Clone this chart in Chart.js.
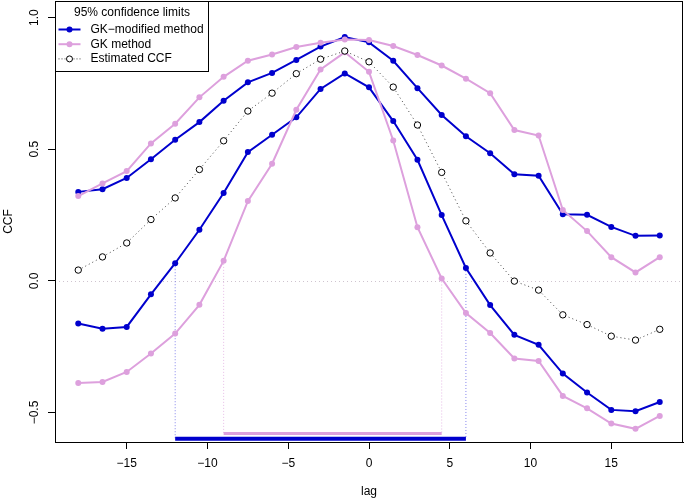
<!DOCTYPE html>
<html>
<head>
<meta charset="utf-8">
<script src="https://cdn.jsdelivr.net/npm/chart.js@4.4.0/dist/chart.umd.min.js"></script>
<style>
  html, body { margin: 0; padding: 0; background: #fff; }
  #wrap { width: 685px; height: 500px; }
</style>
</head>
<body>
<div id="wrap"><canvas id="ccf"></canvas></div>
<script>
// lags and series
const lags = [-18, -16.5, -15, -13.5, -12, -10.5, -9, -7.5, -6, -4.5, -3, -1.5, 0,
  1.5, 3, 4.5, 6, 7.5, 9, 10.5, 12, 13.5, 15, 16.5, 18];

const ccf = [0.041, 0.091, 0.144, 0.233, 0.315, 0.423, 0.532, 0.645, 0.713, 0.787, 0.842, 0.873, 0.832,
  0.736, 0.592, 0.412, 0.228, 0.106, -0.001, -0.035, -0.129, -0.166, -0.210, -0.225, -0.184];

const gkModUpper = [0.338, 0.348, 0.391, 0.462, 0.536, 0.603, 0.684, 0.754, 0.790, 0.839, 0.890, 0.926, 0.906,
  0.836, 0.732, 0.630, 0.549, 0.485, 0.405, 0.399, 0.253, 0.251, 0.205, 0.171, 0.172];
const gkModLower = [-0.162, -0.182, -0.175, -0.051, 0.067, 0.194, 0.334, 0.489, 0.555, 0.621, 0.729, 0.788, 0.735,
  0.607, 0.460, 0.250, 0.049, -0.092, -0.205, -0.243, -0.352, -0.424, -0.490, -0.495, -0.460];

const gkUpper = [0.322, 0.370, 0.417, 0.522, 0.597, 0.697, 0.775, 0.836, 0.860, 0.888, 0.904, 0.917, 0.915,
  0.892, 0.858, 0.818, 0.768, 0.713, 0.573, 0.552, 0.269, 0.189, 0.090, 0.032, 0.090];
const gkLower = [-0.388, -0.384, -0.346, -0.276, -0.200, -0.091, 0.076, 0.303, 0.445, 0.650, 0.803, 0.868, 0.794,
  0.533, 0.204, 0.009, -0.122, -0.198, -0.295, -0.304, -0.437, -0.484, -0.542, -0.562, -0.513];

// significant lag ranges (shown as bars under the curves)
const gkModRange = [-12, 6];
const gkRange = [-9, 4.5];
const gkModBarLevel = -0.600;
const gkBarLevel = -0.580;

const xTicks = [-15, -10, -5, 0, 5, 10, 15];
const yTicks = [-0.5, 0, 0.5, 1.0];
const yTickLabels = ['\u22120.5', '0.0', '0.5', '1.0'];

const BLUE = '#0000CD';
const PINK = '#DDA0DD';
const FONT = '"Liberation Sans", Arial, Helvetica, sans-serif';

const pts = (ys) => lags.map((x, i) => ({ x: x, y: ys[i] }));
const lowerAt = (ys, lag) => ys[lags.indexOf(lag)];

// vertical dotted drop lines from the lower limit to the range bar
function dropLine(ys, lag, level, color) {
  return {
    data: [{ x: lag, y: lowerAt(ys, lag) }, { x: lag, y: level }],
    borderColor: color,
    borderWidth: 1,
    borderDash: [1, 2],
    pointRadius: 0,
    order: 10
  };
}

function rangeBar(range, level, color, width) {
  return {
    data: [{ x: range[0], y: level }, { x: range[1], y: level }],
    borderColor: color,
    borderWidth: width,
    pointRadius: 0,
    order: 9
  };
}

function band(ys, color, order) {
  return {
    data: pts(ys),
    borderColor: color,
    backgroundColor: color,
    borderWidth: 2,
    pointRadius: 3,
    pointBorderWidth: 0,
    pointBackgroundColor: color,
    order: order
  };
}

const rFrame = {
  id: 'rFrame',
  beforeDatasetsDraw(chart) {
    // abline(h = 0)
    const { ctx, chartArea } = chart;
    const y = Math.round(chart.scales.y.getPixelForValue(0)) + 0.5;
    ctx.save();
    ctx.strokeStyle = '#cfc4cf';
    ctx.lineWidth = 1;
    ctx.setLineDash([1, 3]);
    ctx.beginPath();
    ctx.moveTo(chartArea.left, y);
    ctx.lineTo(chartArea.right, y);
    ctx.stroke();
    ctx.restore();
  },
  afterDraw(chart) {
    const { ctx, chartArea } = chart;
    const ys = chart.scales.y;
    ctx.save();
    // box
    ctx.strokeStyle = '#000';
    ctx.lineWidth = 1;
    ctx.strokeRect(Math.round(chartArea.left) + 0.5, Math.round(chartArea.top) + 0.5,
      Math.round(chartArea.right - chartArea.left) - 1, Math.round(chartArea.bottom - chartArea.top));

    // rotated y tick labels, like R's default las = 0
    ctx.fillStyle = '#000';
    ctx.font = '12px ' + FONT;
    ctx.textAlign = 'center';
    ctx.textBaseline = 'middle';
    yTicks.forEach((v, i) => {
      ctx.save();
      ctx.translate(chartArea.left - 20, ys.getPixelForValue(v));
      ctx.rotate(-Math.PI / 2);
      ctx.fillText(yTickLabels[i], 0, 0);
      ctx.restore();
    });

    // legend in the top-left corner
    const lx = Math.round(chartArea.left) + 0.5;
    const ly = Math.round(chartArea.top) + 0.5;
    const lw = 153, lh = 70;
    ctx.fillStyle = '#fff';
    ctx.fillRect(lx, ly, lw, lh);
    ctx.strokeStyle = '#000';
    ctx.strokeRect(lx, ly, lw, lh);
    ctx.fillStyle = '#000';
    ctx.textAlign = 'center';
    ctx.fillText('95% confidence limits', lx + lw / 2, ly + 11);

    const rows = [
      { label: 'GK\u2212modified method', color: BLUE, open: false },
      { label: 'GK method', color: PINK, open: false },
      { label: 'Estimated CCF', color: '#000', open: true }
    ];
    rows.forEach((r, i) => {
      const y = ly + 28 + i * 14.7;
      ctx.save();
      ctx.strokeStyle = r.color;
      if (r.open) {
        ctx.lineWidth = 1;
        ctx.setLineDash([1, 2]);
        ctx.strokeStyle = '#444';
      } else {
        ctx.lineWidth = 2;
      }
      ctx.beginPath();
      ctx.moveTo(lx + 3, y);
      ctx.lineTo(lx + 25, y);
      ctx.stroke();
      ctx.setLineDash([]);
      ctx.beginPath();
      ctx.arc(lx + 14, y, 3, 0, Math.PI * 2);
      if (r.open) {
        ctx.fillStyle = '#fff';
        ctx.fill();
        ctx.lineWidth = 1;
        ctx.strokeStyle = '#000';
        ctx.stroke();
      } else {
        ctx.fillStyle = r.color;
        ctx.fill();
      }
      ctx.restore();
      ctx.textAlign = 'left';
      ctx.fillText(r.label, lx + 35, y);
    });
    ctx.restore();
  }
};

new Chart(document.getElementById('ccf'), {
  type: 'line',
  data: {
    datasets: [
      band(gkModUpper, BLUE, 5),
      band(gkModLower, BLUE, 5),
      band(gkUpper, PINK, 4),
      band(gkLower, PINK, 4),
      {
        data: pts(ccf),
        borderColor: '#444',
        borderWidth: 1,
        borderDash: [1, 3],
        pointRadius: 3.2,
        pointBorderWidth: 1,
        pointBorderColor: '#000',
        pointBackgroundColor: '#fff',
        order: 1
      },
      rangeBar(gkModRange, gkModBarLevel, BLUE, 4),
      rangeBar(gkRange, gkBarLevel, PINK, 3),
      dropLine(gkModLower, gkModRange[0], gkModBarLevel, 'rgba(80,80,230,0.7)'),
      dropLine(gkModLower, gkModRange[1], gkModBarLevel, 'rgba(80,80,230,0.7)'),
      dropLine(gkLower, gkRange[0], gkBarLevel, 'rgba(221,160,221,0.7)'),
      dropLine(gkLower, gkRange[1], gkBarLevel, 'rgba(221,160,221,0.7)')
    ]
  },
  options: {
    responsive: true,
    maintainAspectRatio: false,
    animation: false,
    layout: { autoPadding: false, padding: { top: 1, right: 2, left: 0, bottom: 0 } },
    plugins: {
      legend: { display: false },
      tooltip: { enabled: false }
    },
    scales: {
      x: {
        type: 'linear',
        min: -19.44,
        max: 19.44,
        afterBuildTicks: (s) => { s.ticks = xTicks.map(v => ({ value: v })); },
        afterFit: (s) => { s.height = 58; },
        ticks: {
          color: '#000',
          padding: 7,
          font: { family: FONT, size: 12 },
          callback: (v) => v < 0 ? '\u2212' + Math.abs(v) : String(v)
        },
        grid: { drawOnChartArea: false, drawTicks: true, tickLength: 7, tickColor: '#000' },
        border: { display: true, color: '#000' },
        title: {
          display: true,
          text: 'lag',
          color: '#000',
          padding: { top: 1, bottom: 1 },
          font: { family: FONT, size: 12 }
        }
      },
      y: {
        type: 'linear',
        min: -0.612,
        max: 1.063,
        afterBuildTicks: (s) => { s.ticks = yTicks.map(v => ({ value: v })); },
        afterFit: (s) => { s.width = 55; },
        ticks: { display: false },
        grid: { drawOnChartArea: false, drawTicks: true, tickLength: 7, tickColor: '#000' },
        border: { display: true, color: '#000' },
        title: {
          display: true,
          text: 'CCF',
          color: '#000',
          padding: { top: 1, bottom: 1 },
          font: { family: FONT, size: 12 }
        }
      }
    }
  },
  plugins: [rFrame]
});
</script>
</body>
</html>
